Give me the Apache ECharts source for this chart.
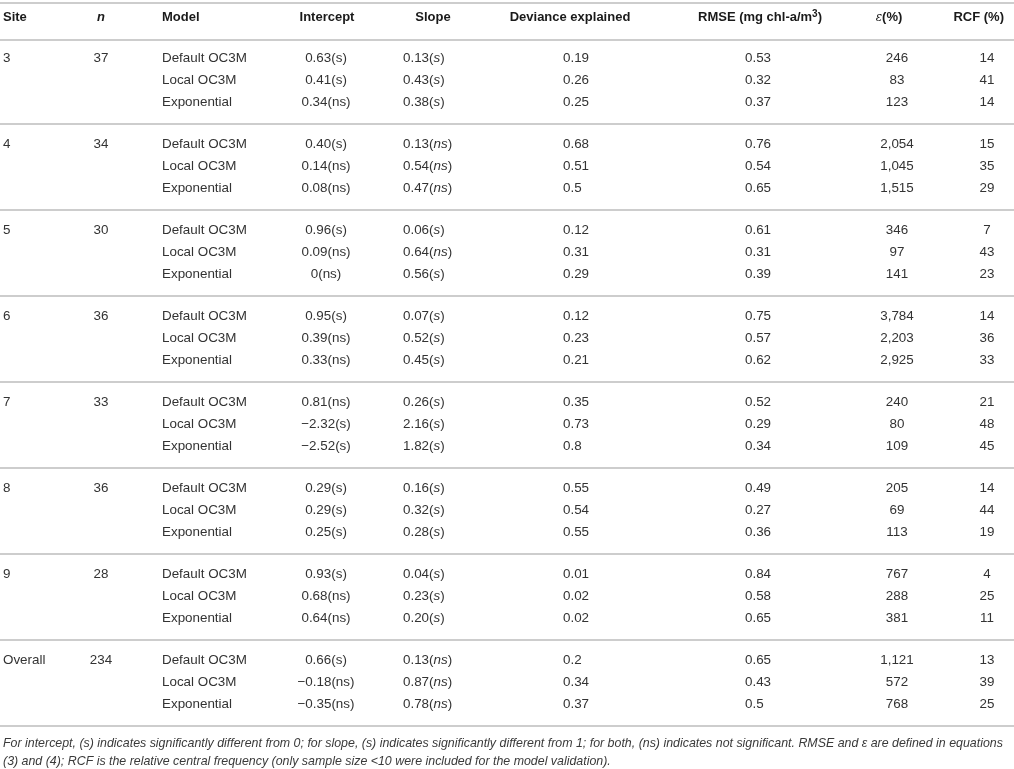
<!DOCTYPE html>
<html>
<head>
    <meta charset="utf-8">
    <script src="https://cdn.jsdelivr.net/npm/echarts@6/dist/echarts.min.js"></script>
</head>
<body style="margin:0;background:#fff">
    <div id="main" style="width:1014px;height:769px;"></div>
    <script type="text/javascript">
        // table content
        var sites = ['3', '4', '5', '6', '7', '8', '9', 'Overall'];
        var sampleSizes = [37, 34, 30, 36, 33, 36, 28, 234];
        var models = ['Default OC3M', 'Local OC3M', 'Exponential'];
        var intercepts = [
            ['0.63(s)', '0.41(s)', '0.34(ns)'],
            ['0.40(s)', '0.14(ns)', '0.08(ns)'],
            ['0.96(s)', '0.09(ns)', '0(ns)'],
            ['0.95(s)', '0.39(ns)', '0.33(ns)'],
            ['0.81(ns)', '\u22122.32(s)', '\u22122.52(s)'],
            ['0.29(s)', '0.29(s)', '0.25(s)'],
            ['0.93(s)', '0.68(ns)', '0.64(ns)'],
            ['0.66(s)', '\u22120.18(ns)', '\u22120.35(ns)']
        ];
        var slopes = [
            ['0.13(s)', '0.43(s)', '0.38(s)'],
            ['0.13(ns)', '0.54(ns)', '0.47(ns)'],
            ['0.06(s)', '0.64(ns)', '0.56(s)'],
            ['0.07(s)', '0.52(s)', '0.45(s)'],
            ['0.26(s)', '2.16(s)', '1.82(s)'],
            ['0.16(s)', '0.32(s)', '0.28(s)'],
            ['0.04(s)', '0.23(s)', '0.20(s)'],
            ['0.13(ns)', '0.87(ns)', '0.78(ns)']
        ];
        var deviance = [
            [0.19, 0.26, 0.25], [0.68, 0.51, 0.5], [0.12, 0.31, 0.29], [0.12, 0.23, 0.21],
            [0.35, 0.73, 0.8], [0.55, 0.54, 0.55], [0.01, 0.02, 0.02], [0.2, 0.34, 0.37]
        ];
        var rmse = [
            [0.53, 0.32, 0.37], [0.76, 0.54, 0.65], [0.61, 0.31, 0.39], [0.75, 0.57, 0.62],
            [0.52, 0.29, 0.34], [0.49, 0.27, 0.36], [0.84, 0.58, 0.65], [0.65, 0.43, 0.5]
        ];
        var epsilon = [
            [246, 83, 123], [2054, 1045, 1515], [346, 97, 141], [3784, 2203, 2925],
            [240, 80, 109], [205, 69, 113], [767, 288, 381], [1121, 572, 768]
        ];
        var rcf = [
            [14, 41, 14], [15, 35, 29], [7, 43, 23], [14, 36, 33],
            [21, 48, 45], [14, 44, 19], [4, 25, 11], [13, 39, 25]
        ];
        var headers = ['Site', '{bi|n}', 'Model', 'Intercept', 'Slope', 'Deviance explained',
            'RMSE (mg chl-a/m{sup|3})', '{eps|\u03b5}(%)', 'RCF (%)'];
        var footnotes = [
            'For intercept, (s) indicates significantly different from 0; for slope, (s) indicates significantly different from 1; for both, (ns) indicates not significant. RMSE and \u03b5 are defined in equations',
            '(3) and (4); RCF is the relative central frequency (only sample size <10 were included for the model validation).'
        ];

        // layout (x in px along the hidden x axis, y in row units)
        var colX = [3, 101, 162, 326, 403, 563, 745, 897, 987];
        var colAlign = ['left', 'center', 'left', 'center', 'left', 'left', 'left', 'center', 'center'];
        var headX = [3, 101, 162, 327, 433, 570, 760, 889, 1004];
        var headAlign = ['left', 'center', 'left', 'center', 'center', 'center', 'center', 'center', 'right'];
        var groupPitch = 3.857;
        var headerRow = -1.816;
        var noteRows = [30.72, 31.57];
        var FONT = "'Liberation Sans', Arial, Helvetica, sans-serif";

        var cells = [];
        headers.forEach(function (h, c) {
            cells.push({ x: headX[c], y: headerRow, text: h, align: headAlign[c], kind: 'head' });
        });
        sites.forEach(function (s, g) {
            var y0 = g * groupPitch;
            cells.push({ x: colX[0], y: y0, text: s, align: colAlign[0] });
            cells.push({ x: colX[1], y: y0, text: String(sampleSizes[g]), align: colAlign[1] });
            models.forEach(function (m, r) {
                var y = y0 + r;
                var row = [
                    m,
                    intercepts[g][r],
                    slopes[g][r].replace(/\((n?s)\)/, '({i|$1})'),
                    String(deviance[g][r]),
                    String(rmse[g][r]),
                    epsilon[g][r].toLocaleString('en-US'),
                    String(rcf[g][r])
                ];
                row.forEach(function (t, k) {
                    cells.push({ x: colX[k + 2], y: y, text: t, align: colAlign[k + 2] });
                });
            });
        });
        footnotes.forEach(function (t, k) {
            cells.push({ x: 3, y: noteRows[k], text: t, align: 'left', kind: 'note' });
        });

        var rules = [-2.466, -0.807];
        sites.forEach(function (s, g) { rules.push(2.96 + g * groupPitch); });

        var myChart = echarts.init(document.getElementById('main'));
        var option = {
            backgroundColor: '#fff',
            animation: false,
            grid: { left: 0, right: 0, top: 0, bottom: 0 },
            xAxis: { type: 'value', min: 0, max: 1014, show: false },
            yAxis: { type: 'value', min: -2.601, max: 31.883, inverse: true, show: false },
            series: [{
                type: 'custom',
                silent: true,
                data: rules.map(function (y) { return [0, y]; }),
                renderItem: function (params, api) {
                    var a = api.coord([0, api.value(1)]);
                    var b = api.coord([1014, api.value(1)]);
                    return {
                        type: 'line',
                        shape: { x1: a[0], y1: a[1], x2: b[0], y2: b[1] },
                        style: { stroke: '#bcbcbc', lineWidth: 1.5 }
                    };
                }
            }, {
                type: 'custom',
                silent: true,
                data: cells.map(function (c) { return [c.x, c.y]; }),
                renderItem: function (params, api) {
                    var c = cells[params.dataIndex];
                    var p = api.coord([api.value(0), api.value(1)]);
                    var isHead = c.kind === 'head';
                    var isNote = c.kind === 'note';
                    var size = isNote ? 12.4 : (isHead ? 13 : 13.4);
                    var weight = isHead ? 'bold' : 'normal';
                    var fill = isHead ? '#1a1a1a' : (isNote ? '#3a3a3a' : '#333');
                    return {
                        type: 'text',
                        x: p[0],
                        y: p[1],
                        style: {
                            text: c.text,
                            fontFamily: FONT,
                            fontSize: size,
                            fontWeight: weight,
                            fontStyle: isNote ? 'italic' : 'normal',
                            fill: fill,
                            align: c.align,
                            verticalAlign: 'middle',
                            rich: {
                                i: { fontFamily: FONT, fontSize: size, fontStyle: 'italic', fill: fill },
                                bi: { fontFamily: FONT, fontSize: size, fontStyle: 'italic', fontWeight: 'bold', fill: fill },
                                eps: { fontFamily: 'DejaVu Serif', fontSize: size - 1, fontStyle: 'italic', fontWeight: 'normal', fill: fill },
                                sup: { fontFamily: FONT, fontSize: 10, fontWeight: 'bold', fill: fill, padding: [0, 0, 7, 0] }
                            }
                        }
                    };
                }
            }]
        };
        myChart.setOption(option);
    </script>
</body>
</html>
